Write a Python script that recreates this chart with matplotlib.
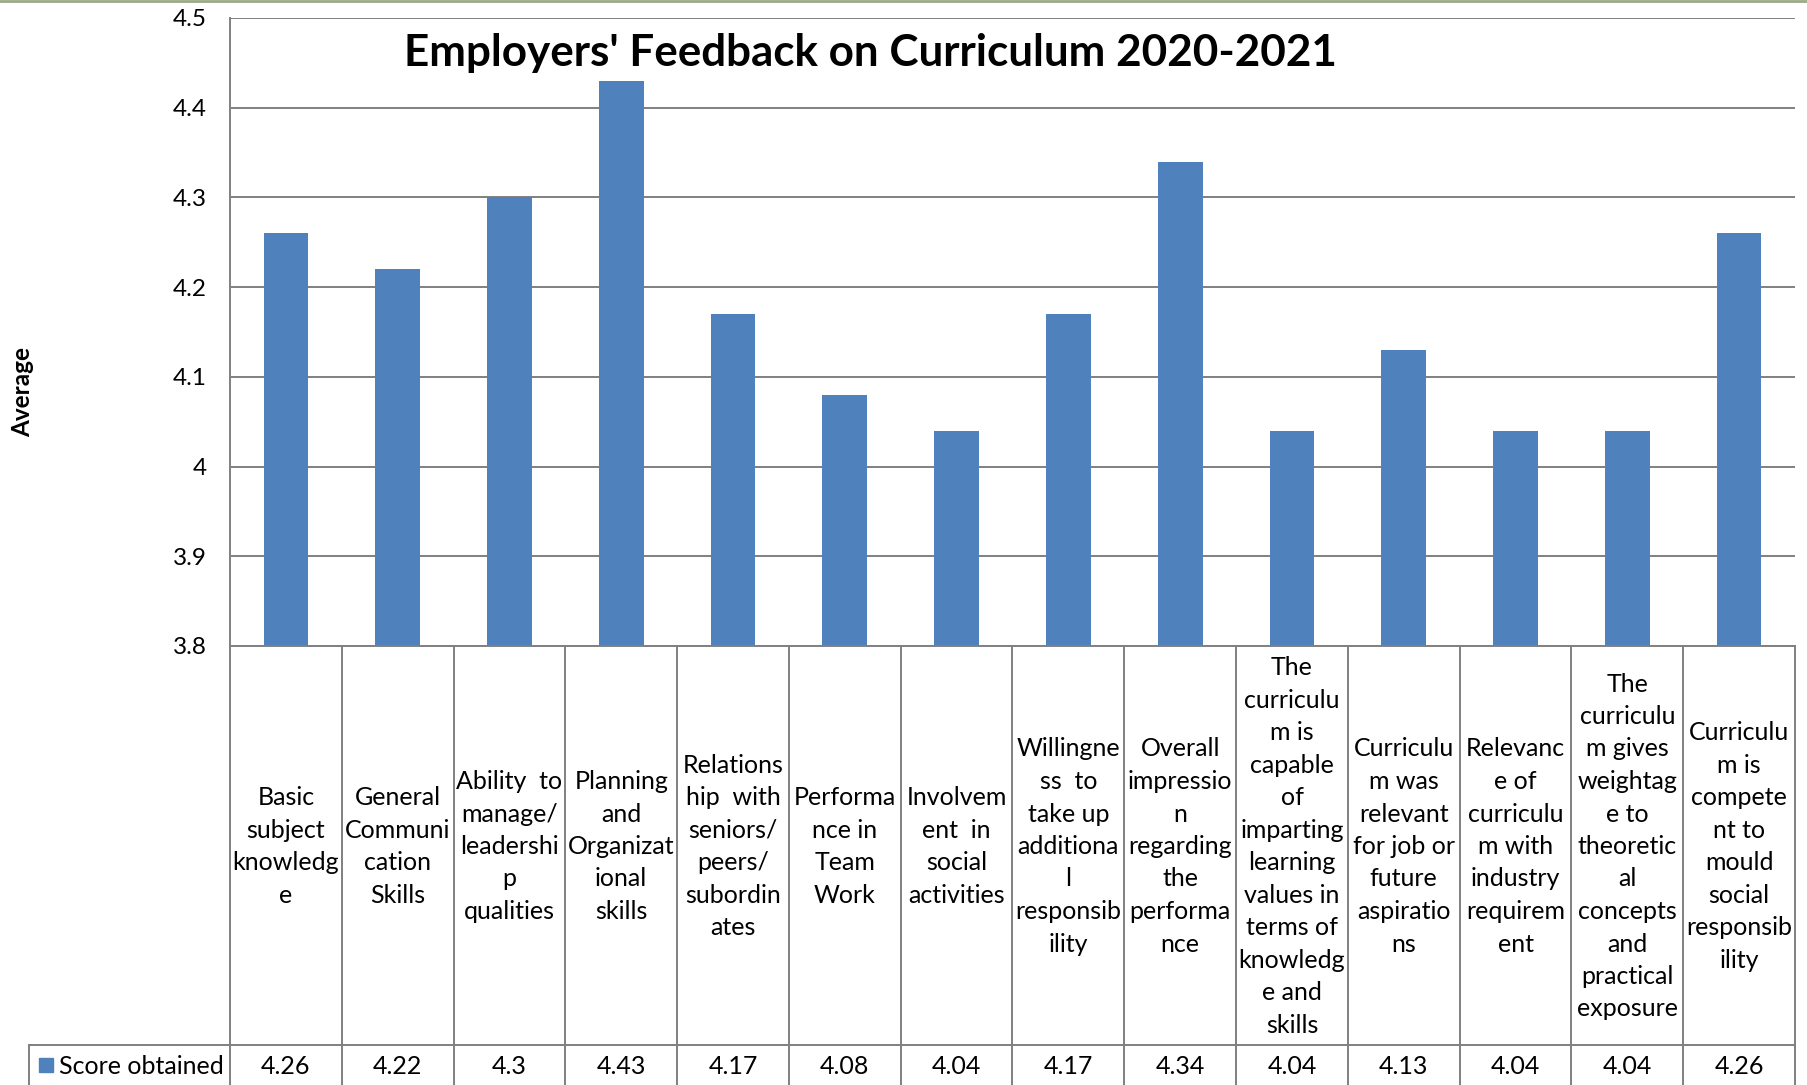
import numpy as np
import matplotlib
matplotlib.use("Agg")
from matplotlib import pyplot as plt

# data
labels = [
    "Basic\nsubject\nknowledg\ne",
    "General\nCommuni\ncation\nSkills",
    "Ability  to\nmanage/\nleadershi\np\nqualities",
    "Planning\nand\nOrganizat\nional\nskills",
    "Relations\nhip  with\nseniors/\npeers/\nsubordin\nates",
    "Performa\nnce in\nTeam\nWork",
    "Involvem\nent  in\nsocial\nactivities",
    "Willingne\nss  to\ntake up\nadditiona\nl\nresponsib\nility",
    "Overall\nimpressio\nn\nregarding\nthe\nperforma\nnce",
    "The\ncurriculu\nm is\ncapable\nof\nimparting\nlearning\nvalues in\nterms of\nknowledg\ne and\nskills",
    "Curriculu\nm was\nrelevant\nfor job or\nfuture\naspiratio\nns",
    "Relevanc\ne of\ncurriculu\nm with\nindustry\nrequirem\nent",
    "The\ncurriculu\nm gives\nweightag\ne to\ntheoretic\nal\nconcepts\nand\npractical\nexposure",
    "Curriculu\nm is\ncompete\nnt to\nmould\nsocial\nresponsib\nility",
]
scores = [4.26, 4.22, 4.3, 4.43, 4.17, 4.08, 4.04, 4.17, 4.34, 4.04, 4.13, 4.04, 4.04, 4.26]
score_text = ["4.26", "4.22", "4.3", "4.43", "4.17", "4.08", "4.04", "4.17", "4.34", "4.04", "4.13", "4.04", "4.04", "4.26"]
yticks = [3.8, 3.9, 4.0, 4.1, 4.2, 4.3, 4.4, 4.5]
ytick_labels = ["3.8", "3.9", "4", "4.1", "4.2", "4.3", "4.4", "4.5"]
series_name = "Score obtained"
title = "Employers' Feedback on Curriculum 2020-2021"

plt.rcParams['font.family'] = ['Lato', 'DejaVu Sans']

W, H = 1807, 1085
fig = plt.figure(figsize=(W / 100, H / 100), dpi=100)

bar_col = "#4F81BD"
grid_col = "#808080"

x_left, x_right = 230, 1795
y_top, y_axis, y_row = 18, 646, 1045

n = len(scores)
x = np.arange(n)

# main chart
ax = fig.add_axes([x_left / W, (H - y_axis) / H, (x_right - x_left) / W, (y_axis - y_top) / H])
ax.bar(x, scores, width=0.4, color=bar_col, zorder=3)
ax.set_xlim(-0.5, n - 0.5)
ax.set_ylim(3.8, 4.5)
ax.set_yticks(yticks)
ax.set_yticklabels(ytick_labels)
ax.tick_params(axis='y', length=0, pad=17, labelsize=17.5)
ax.set_xticks([])
ax.grid(axis='y', color=grid_col, lw=1.4, zorder=0)
for s in ['top', 'right', 'bottom']:
    ax.spines[s].set_visible(False)
ax.spines['left'].set_color(grid_col)
ax.spines['left'].set_linewidth(1.4)

# data table below
tb = fig.add_axes([x_left / W, 0, (x_right - x_left) / W, (H - y_axis) / H])
tb.set_xlim(-0.5, n - 0.5)
tb.set_ylim(H, y_axis)
tb.axis('off')
lk = dict(color=grid_col, lw=1.4, clip_on=False)
tb.plot([-0.5, n - 0.5], [y_axis, y_axis], **lk)
for k in range(n + 1):
    tb.plot([k - 0.5, k - 0.5], [y_axis, H], **lk)
leg_left = -0.5 - (x_left - 29) / ((x_right - x_left) / n)
tb.plot([leg_left, n - 0.5], [y_row, y_row], **lk)
tb.plot([leg_left, leg_left], [y_row, H], **lk)

for i in range(n):
    tb.text(x[i], (y_axis + y_row) / 2 + 1, labels[i], ha='center', va='center',
            fontsize=18, linespacing=1.5, clip_on=False)
    tb.text(x[i], 1066, score_text[i], ha='center', va='center', fontsize=18, clip_on=False)

fig.patches.append(plt.Rectangle((39 / W, 1 - 1072 / H), 14 / W, 14 / H, color=bar_col,
                                 transform=fig.transFigure, figure=fig))
fig.text(59 / W, 1 - 1066 / H, series_name, ha='left', va='center', fontsize=18)

fig.text(870 / W, 1 - 53 / H, title, ha='center', va='center', fontsize=31.7, fontweight='bold')
fig.text(23 / W, 1 - 392 / H, "Average", rotation=90, ha='center', va='center',
         fontsize=17.5, fontweight='bold')

# thin border line at the very top
fig.add_artist(plt.Line2D([0, 1], [1 - 1 / H, 1 - 1 / H], color="#9aaa88", lw=2,
                          transform=fig.transFigure))

fig.savefig("out.png", dpi=100)
